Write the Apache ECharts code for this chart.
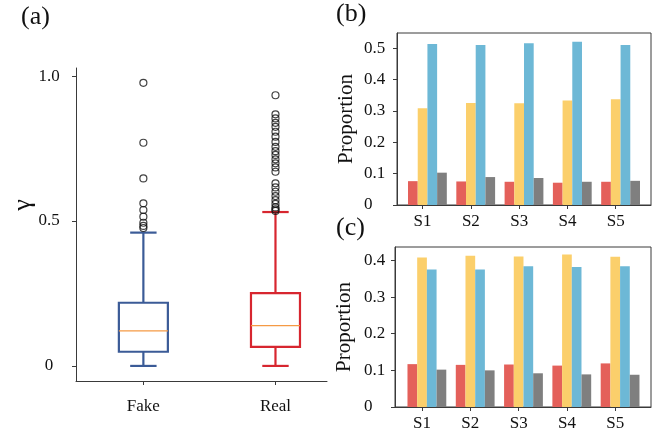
<!DOCTYPE html>
<html><head><meta charset="utf-8">
<script src="https://cdn.jsdelivr.net/npm/echarts@6/dist/echarts.min.js"></script>
<style>html,body{margin:0;padding:0;background:#fff}#c{width:667px;height:437px}</style>
</head><body><div id="c"></div>
<script>
// ---- panel (a) data ----
const boxCategories = ['Fake', 'Real'];
const fakeStats = [0, 0.049, 0.121, 0.218, 0.46];   // min, q1, median, q3, max
const realStats = [0, 0.066, 0.139, 0.251, 0.531];
const fakeOutliers = [0.977, 0.77, 0.647, 0.561, 0.538, 0.515, 0.494, 0.483, 0.476];
const realOutliers = [0.934, 0.868, 0.854, 0.839, 0.825, 0.808, 0.791, 0.773, 0.756, 0.741, 0.728, 0.713, 0.699, 0.685, 0.67, 0.63, 0.616, 0.601, 0.586, 0.572, 0.559, 0.547, 0.54, 0.535];
const gammaTicks = [0, 0.5, 1.0];

// ---- panels (b), (c) data ----
const groups = ['S1', 'S2', 'S3', 'S4', 'S5'];
const bRed    = [0.076, 0.075, 0.074, 0.071, 0.074];
const bYellow = [0.308, 0.325, 0.324, 0.333, 0.337];
const bBlue   = [0.513, 0.510, 0.515, 0.520, 0.510];
const bGray   = [0.103, 0.089, 0.086, 0.074, 0.077];
const bTicks  = [0, 0.1, 0.2, 0.3, 0.4, 0.5];
const cRed    = [0.117, 0.115, 0.116, 0.113, 0.119];
const cYellow = [0.408, 0.413, 0.411, 0.416, 0.410];
const cBlue   = [0.375, 0.375, 0.384, 0.382, 0.384];
const cGray   = [0.102, 0.100, 0.092, 0.089, 0.088];
const cTicks  = [0, 0.1, 0.2, 0.3, 0.4];

// ---- styles ----
const FONT = 'Liberation Serif';
const AX = '#3a3a3a';
const boxColors = ['#3B5B97', '#D7262F'];
const medianColor = '#F59A45';
const barColors = ['#E4605A', '#FBCF6B', '#6DB8D6', '#7F7F7F'];

const chart = echarts.init(document.getElementById('c'), null, {renderer: 'canvas'});

const lbl = {fontFamily: FONT, fontSize: 17, color: '#111'};
const yFmt = v => v === 0 ? '0' : v.toFixed(1);
const gIdx = groups.map((g, i) => i);

function visibleX(grid, min, max) {
  return {
    gridIndex: grid, type: 'value', min: min, max: max,
    axisLine: {show: true, onZero: false, lineStyle: {color: AX, width: 1}},
    axisTick: {show: true, customValues: gIdx, length: 4, lineStyle: {color: AX}},
    axisLabel: Object.assign({customValues: gIdx, formatter: v => groups[Math.round(v)], margin: 8}, lbl),
    splitLine: {show: false}
  };
}
function hiddenX(grid, min, max) {
  return {gridIndex: grid, type: 'value', min: min, max: max, show: false, splitLine: {show: false}};
}
function propY(grid, max, ticks, margin) {
  return {
    gridIndex: grid, type: 'value', min: 0, max: max,
    name: 'Proportion', nameLocation: 'middle', nameGap: 40,
    nameTextStyle: {fontFamily: FONT, fontSize: 21, color: '#111'},
    axisLine: {show: true, onZero: false, lineStyle: {color: AX, width: 1}},
    axisTick: {show: true, customValues: ticks, length: 4, lineStyle: {color: AX}},
    axisLabel: Object.assign({customValues: ticks, formatter: yFmt, align: 'left', margin: margin}, lbl),
    splitLine: {show: false}
  };
}
function barSeries(xi, yi, arrs) {
  return arrs.map((arr, k) => ({
    type: 'bar', xAxisIndex: xi, yAxisIndex: yi,
    data: arr.map((v, i) => [i, v]),
    barWidth: 9.7, barGap: '0%',
    itemStyle: {color: barColors[k]},
    silent: true
  }));
}

const option = {
  animation: false,
  backgroundColor: '#fff',
  grid: [
    {left: 76, top: 68, width: 251, height: 313, show: false},
    {left: 397, top: 33, width: 254, height: 172, show: true, borderColor: AX, borderWidth: 1, backgroundColor: 'transparent'},
    {left: 395, top: 247, width: 256, height: 160, show: true, borderColor: AX, borderWidth: 1, backgroundColor: 'transparent'}
  ],
  xAxis: [
    {
      gridIndex: 0, type: 'value', min: 0.49, max: 2.39,
      axisLine: {show: true, onZero: false, lineStyle: {color: AX, width: 1}},
      axisTick: {show: true, customValues: [1, 2], length: 4, lineStyle: {color: AX}},
      axisLabel: Object.assign({customValues: [1, 2], formatter: v => boxCategories[Math.round(v) - 1], margin: 17}, lbl),
      splitLine: {show: false}
    },
    visibleX(1, -0.53, 4.73),
    hiddenX(1, -0.63, 4.63),
    visibleX(2, -0.56, 4.74),
    hiddenX(2, -0.66, 4.64)
  ],
  yAxis: [
    {
      gridIndex: 0, type: 'value', min: -0.052, max: 1.028,
      axisLine: {show: true, onZero: false, lineStyle: {color: AX, width: 1}},
      axisTick: {show: true, customValues: gammaTicks, length: 4, lineStyle: {color: AX}},
      axisLabel: Object.assign({customValues: gammaTicks, formatter: yFmt, align: 'center', margin: 27}, lbl),
      splitLine: {show: false}
    },
    propY(1, 0.548, bTicks, 33),
    propY(2, 0.4367, cTicks, 31)
  ],
  series: [
    {
      type: 'custom', xAxisIndex: 0, yAxisIndex: 0,
      data: [[1].concat(fakeStats), [2].concat(realStats)],
      encode: {x: 0, y: [1, 2, 3, 4, 5]},
      silent: true,
      renderItem: function (params, api) {
        const x = api.value(0);
        const pt = v => api.coord([x, v]);
        const lo = pt(api.value(1)), q1 = pt(api.value(2)), md = pt(api.value(3)),
              q3 = pt(api.value(4)), hi = pt(api.value(5));
        const cx = lo[0], hw = 24.5, cw = 13.2;
        const color = boxColors[params.dataIndex];
        const ls = {stroke: color, lineWidth: 2.2, fill: null};
        return {type: 'group', children: [
          {type: 'line', shape: {x1: cx, y1: q3[1], x2: cx, y2: hi[1]}, style: ls},
          {type: 'line', shape: {x1: cx, y1: q1[1], x2: cx, y2: lo[1]}, style: ls},
          {type: 'line', shape: {x1: cx - cw, y1: hi[1], x2: cx + cw, y2: hi[1]}, style: ls},
          {type: 'line', shape: {x1: cx - cw, y1: lo[1], x2: cx + cw, y2: lo[1]}, style: ls},
          {type: 'rect', shape: {x: cx - hw, y: q3[1], width: 2 * hw, height: q1[1] - q3[1]},
           style: {stroke: color, lineWidth: 2.2, fill: '#fff'}},
          {type: 'line', shape: {x1: cx - hw, y1: md[1], x2: cx + hw, y2: md[1]},
           style: {stroke: medianColor, lineWidth: 1.4}}
        ]};
      }
    },
    {
      type: 'scatter', xAxisIndex: 0, yAxisIndex: 0, silent: true,
      data: fakeOutliers.map(v => [1, v]).concat(realOutliers.map(v => [2, v])),
      symbol: 'circle', symbolSize: 7,
      itemStyle: {color: 'rgba(0,0,0,0)', borderColor: '#111', borderWidth: 1.2},
      z: 3
    }
  ].concat(barSeries(2, 1, [bRed, bYellow, bBlue, bGray]))
   .concat(barSeries(4, 2, [cRed, cYellow, cBlue, cGray])),
  graphic: [
    {type: 'text', left: 21, top: 4, style: {text: '(a)', fontFamily: FONT, fontSize: 26, fill: '#111'}},
    {type: 'text', left: 336, top: 1, style: {text: '(b)', fontFamily: FONT, fontSize: 26, fill: '#111'}},
    {type: 'text', left: 336, top: 215, style: {text: '(c)', fontFamily: FONT, fontSize: 26, fill: '#111'}},
    {type: 'text', x: 23, y: 205, rotation: Math.PI / 2,
     style: {text: 'γ', fontFamily: FONT, fontSize: 26, fill: '#111', align: 'center', verticalAlign: 'middle'}}
  ]
};
chart.setOption(option);
</script>
</body></html>
